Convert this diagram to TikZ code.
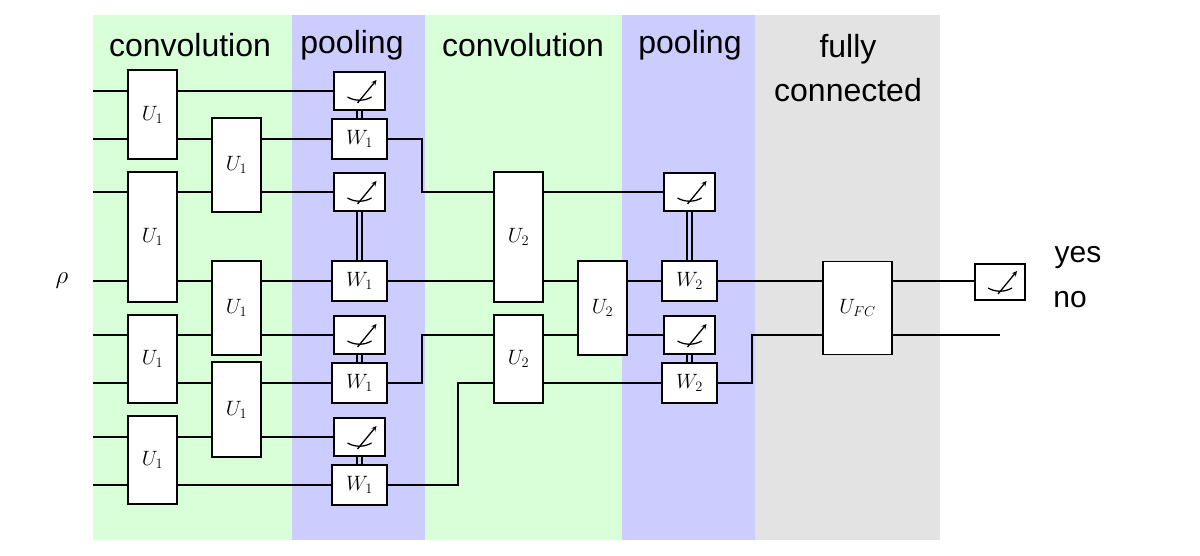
\documentclass[tikz,border=0pt]{standalone}
\usepackage{fontspec}
\setmainfont{Liberation Sans}
\begin{document}
\begin{tikzpicture}[x=1pt,y=-1pt,line width=1.6pt,
 gate/.style={draw,fill=white,inner sep=0pt,font=\fontsize{22}{22}\selectfont},
 meter/.style={draw,fill=white,inner sep=0pt,minimum width=51pt,minimum height=38pt},
 wbox/.style={draw,fill=white,inner sep=0pt,minimum width=55pt,minimum height=40pt,font=\fontsize{22}{22}\selectfont},
 title/.style={font=\fontsize{32}{44}\selectfont,align=center}]
\useasboundingbox (0,0) rectangle (1200,556);
\fill[green!15] (93,15) rectangle (292,540);
\fill[blue!20] (292,15) rectangle (425,540);
\fill[green!15] (425,15) rectangle (622,540);
\fill[blue!20] (622,15) rectangle (755,540);
\fill[black!11] (755,15) rectangle (940,540);
\node[title] (t1) at (190,45) {convolution};
\node[title] (t2) at (352,45) {pooling};
\node[title] (t3) at (523,45) {convolution};
\node[title] (t4) at (690,45) {pooling};
\node[title] (t5) at (848,68) {fully\\connected};
\node[font=\fontsize{40}{40}\selectfont] (rho) at (62,281) {$\rho$};
\node[font=\fontsize{30}{30}\selectfont] (yes) at (1078,258) {yes};
\node[font=\fontsize{30}{30}\selectfont] (no) at (1070,300) {no};
\foreach \n/\y in {a/91,b/139,c/192,d/281,e/335,f/383,g/437,h/485} \coordinate (s\n) at (93,\y);
% wires first
\draw (sa) -- (333,91);
\draw (sb) -- (333,139);
\draw (sc) -- (333,192);
\draw (sd) -- (333,281);
\draw (se) -- (333,335);
\draw (sf) -- (333,383);
\draw (sg) -- (333,437);
\draw (sh) -- (333,485);
\coordinate (k1) at (422,139); \coordinate (k2) at (422,192);
\coordinate (k3) at (422,383); \coordinate (k4) at (422,335);
\coordinate (k5) at (458,485); \coordinate (k6) at (458,383);
\coordinate (k7) at (752,383); \coordinate (k8) at (752,335);
\draw (386,139) -- (k1) -- (k2) -- (664,192);
\draw (386,281) -- (823,281);
\draw (386,383) -- (k3) -- (k4) -- (664,335);
\draw (386,485) -- (k5) -- (k6) -- (664,383);
\draw (716,383) -- (k7) -- (k8) -- (823,335);
\coordinate (out1) at (975,281);
\coordinate (out2) at (1000,335);
\draw (892,281) -- (out1);
\draw (892,335) -- (out2);
% U1 gates
\node[gate,minimum width=49pt,minimum height=89pt] (u11) at (152.5,114.5) {$U_1$};
\node[gate,minimum width=49pt,minimum height=130pt] (u12) at (152.5,237) {$U_1$};
\node[gate,minimum width=49pt,minimum height=88pt] (u13) at (152.5,359) {$U_1$};
\node[gate,minimum width=49pt,minimum height=88pt] (u14) at (152.5,460) {$U_1$};
\node[gate,minimum width=49pt,minimum height=94pt] (u15) at (236.5,165) {$U_1$};
\node[gate,minimum width=49pt,minimum height=94pt] (u16) at (236.5,308) {$U_1$};
\node[gate,minimum width=49pt,minimum height=95pt] (u17) at (236.5,409.5) {$U_1$};
% pooling 1
\foreach \n/\y in {1/91,2/192,3/335,4/437} {
 \node[meter] (m\n) at (359.5,\y) {};
 \draw[line width=1.3pt] ([shift={(-12,6)}]m\n.center) arc[start angle=120,end angle=60,radius=24];
 \draw[line width=1.3pt,-stealth] ([shift={(-2,12)}]m\n.center) -- ([shift={(17,-11)}]m\n.center);
}
\foreach \n/\y in {1/139,2/281,3/383,4/485} \node[wbox] (w\n) at (359.5,\y) {$W_1$};
\foreach \a/\b in {m1/w1,m2/w2,m3/w3,m4/w4} {
 \draw[line width=1.2pt] ([xshift=-2.5pt]\a.south) -- ([xshift=-2.5pt]\b.north);
 \draw[line width=1.2pt] ([xshift=2.5pt]\a.south) -- ([xshift=2.5pt]\b.north);
}
% U2
\node[gate,minimum width=49pt,minimum height=130pt] (u21) at (518.5,237) {$U_2$};
\node[gate,minimum width=49pt,minimum height=88pt] (u22) at (518.5,359) {$U_2$};
\node[gate,minimum width=49pt,minimum height=94pt] (u23) at (602.5,308) {$U_2$};
% pooling 2
\foreach \n/\y in {5/192,6/335} {
 \node[meter] (m\n) at (689.5,\y) {};
 \draw[line width=1.3pt] ([shift={(-12,6)}]m\n.center) arc[start angle=120,end angle=60,radius=24];
 \draw[line width=1.3pt,-stealth] ([shift={(-2,12)}]m\n.center) -- ([shift={(17,-11)}]m\n.center);
}
\node[wbox] (w5) at (689.5,281) {$W_2$};
\node[wbox] (w6) at (689.5,383) {$W_2$};
\foreach \a/\b in {m5/w5,m6/w6} {
 \draw[line width=1.2pt] ([xshift=-2.5pt]\a.south) -- ([xshift=-2.5pt]\b.north);
 \draw[line width=1.2pt] ([xshift=2.5pt]\a.south) -- ([xshift=2.5pt]\b.north);
}
\node[gate,minimum width=69pt,minimum height=93pt] (ufc) at (857.5,308) {$U_{FC}$};
\node[meter,minimum width=50pt,minimum height=36pt] (m7) at (1000,282) {};
\draw[line width=1.3pt] ([shift={(-12,6)}]m7.center) arc[start angle=120,end angle=60,radius=24];
\draw[line width=1.3pt,-stealth] ([shift={(-2,12)}]m7.center) -- ([shift={(17,-11)}]m7.center);
\end{tikzpicture}
\end{document}
